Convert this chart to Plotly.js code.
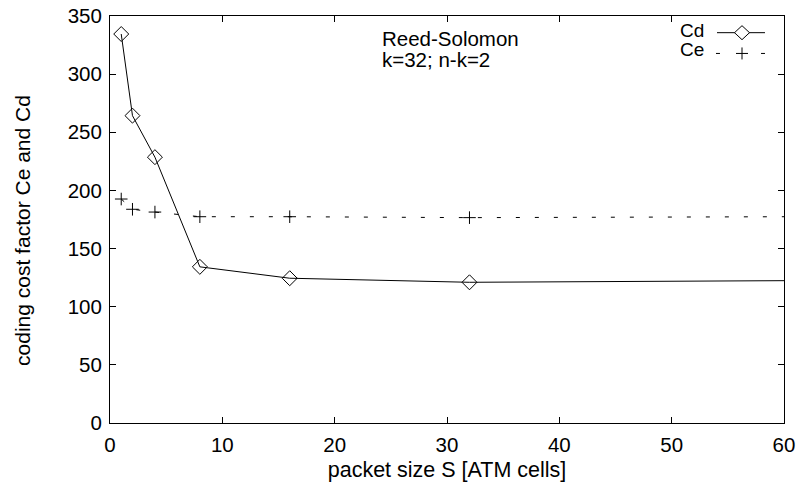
<!DOCTYPE html>
<html>
<head>
<meta charset="utf-8">
<script src="https://cdn.plot.ly/plotly-3.0.1.min.js"></script>
<style>html,body{margin:0;padding:0;background:#fff;}#chart{width:797px;height:492px;}</style>
</head>
<body>
<div id="chart"></div>
<script>
// packet size S [ATM cells]
const packetSize = [1, 2, 4, 8, 16, 32, 64];
// decoding cost factor Cd
const cd = [334.5, 264.3, 228.6, 134.3, 124.5, 121.0, 122.6];
// encoding cost factor Ce
const ce = [192.6, 183.8, 181.4, 177.4, 177.4, 176.6, 177.5];
const xTicks = [0, 10, 20, 30, 40, 50, 60];
const yTicks = [0, 50, 100, 150, 200, 250, 300, 350];
const legendNames = ["Cd", "Ce"];
const noteLines = ["Reed-Solomon", "k=32; n-k=2"];
const xTitle = "packet size S [ATM cells]";
const yTitle = "coding cost factor Ce and Cd";

const FONT = "Liberation Sans, Arial, sans-serif";
const f = (s) => ({family: FONT, size: s, color: "#000"});

const traces = [
  {
    x: packetSize, y: cd, name: legendNames[0], type: "scatter", mode: "lines+markers",
    line: {color: "#000", width: 1},
    marker: {symbol: "diamond-open", size: 11.5, color: "#000", line: {width: 1, color: "#000"}},
    showlegend: false
  },
  {
    x: packetSize, y: ce, name: legendNames[1], type: "scatter", mode: "lines+markers",
    line: {color: "#000", width: 1, dash: "4px,15px"},
    marker: {symbol: "cross-thin-open", size: 9, color: "#000", line: {width: 1, color: "#000"}},
    showlegend: false
  }
];

const diamondPath = "M 0 -7 L 7.5 0 L 0 7 L -7.5 0 Z";
const plusPath = "M -6 0 L 6 0 M 0 -6 L 0 6";

const layout = {
  width: 797, height: 492,
  margin: {l: 110, r: 13, t: 16, b: 69},
  paper_bgcolor: "#fff", plot_bgcolor: "#fff",
  font: f(20.5),
  showlegend: false,
  xaxis: {
    range: [0, 60], tickvals: xTicks, ticktext: xTicks.map(String),
    ticks: "inside", ticklen: 6, tickcolor: "#000", tickwidth: 1,
    showline: true, linecolor: "#000", linewidth: 1, mirror: "ticks",
    showgrid: false, zeroline: false, ticklabelstandoff: 3,
    tickfont: f(20.5),
    title: {text: xTitle, font: f(21.5), standoff: 7}
  },
  yaxis: {
    range: [0, 350], tickvals: yTicks, ticktext: yTicks.map(String),
    ticks: "inside", ticklen: 6, tickcolor: "#000", tickwidth: 1,
    showline: true, linecolor: "#000", linewidth: 1, mirror: "ticks",
    showgrid: false, zeroline: false, ticklabelstandoff: 3,
    tickfont: f(20.5)
  },
  annotations: [
    {xref: "paper", yref: "paper", x: -0.129, y: 0.472, xanchor: "center", yanchor: "middle",
     text: yTitle, textangle: -90, showarrow: false, font: f(21)},
    {xref: "paper", yref: "paper", x: 0.400, y: 0.9435, xanchor: "left", yanchor: "middle",
     text: noteLines[0], showarrow: false, font: f(20.5)},
    {xref: "paper", yref: "paper", x: 0.400, y: 0.894, xanchor: "left", yanchor: "middle",
     text: noteLines[1], showarrow: false, font: f(20.5)},
    {xref: "paper", yref: "paper", x: 0.885, y: 0.9656, xanchor: "right", yanchor: "middle",
     text: legendNames[0], showarrow: false, font: f(19)},
    {xref: "paper", yref: "paper", x: 0.885, y: 0.9165, xanchor: "right", yanchor: "middle",
     text: legendNames[1], showarrow: false, font: f(19)}
  ],
  shapes: [
    {type: "line", xref: "paper", yref: "paper", x0: 0.9006, x1: 0.9718, y0: 0.959, y1: 0.959,
     line: {color: "#000", width: 1}},
    {type: "path", xref: "paper", yref: "paper", xsizemode: "pixel", ysizemode: "pixel",
     xanchor: 0.9377, yanchor: 0.959, path: diamondPath, fillcolor: "#fff", line: {color: "#000", width: 1}},
    {type: "line", xref: "paper", yref: "paper", x0: 0.8991, x1: 0.905, y0: 0.908, y1: 0.908,
     line: {color: "#000", width: 1}},
    {type: "line", xref: "paper", yref: "paper", x0: 0.9659, x1: 0.9718, y0: 0.908, y1: 0.908,
     line: {color: "#000", width: 1}},
    {type: "path", xref: "paper", yref: "paper", xsizemode: "pixel", ysizemode: "pixel",
     xanchor: 0.9377, yanchor: 0.908, path: plusPath, line: {color: "#000", width: 1}}
  ]
};

Plotly.newPlot("chart", traces, layout, {displayModeBar: false, staticPlot: true});
</script>
</body>
</html>
